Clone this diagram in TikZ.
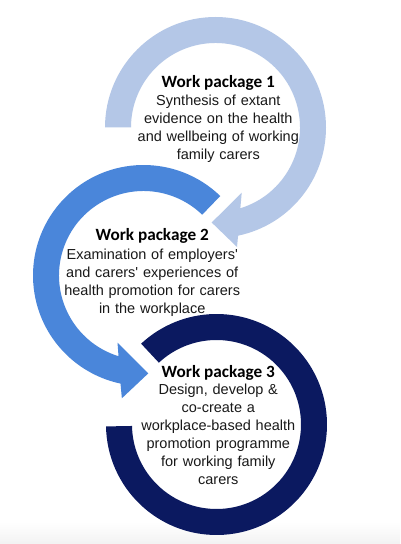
\documentclass[tikz,border=0pt]{standalone}
\usepackage{fontspec}
\setmainfont{Liberation Sans}
\newfontfamily\bodyfont{Liberation Sans}
\newfontfamily\titlefont{Carlito}
\definecolor{wpone}{HTML}{B4C7E7}
\definecolor{wptwo}{HTML}{4A86DA}
\definecolor{wpthree}{HTML}{0B1960}
\tikzset{
  wptitle/.style={font=\titlefont\bfseries\fontsize{17.2}{20}\selectfont, anchor=base, inner sep=0pt, text=black},
  wpbody/.style={font=\bodyfont\fontsize{14.5}{17.9}\selectfont, text width=230pt, align=center, anchor=base, inner sep=0pt, text=black!90}
}
\begin{document}
\begin{tikzpicture}[x=1pt,y=1pt]
\useasboundingbox (0,0) rectangle (400,544);
\fill[white] (0,0) rectangle (400,544);
\shade[top color=white,bottom color=black!5] (0,0) rectangle (400,22);

\coordinate (c1) at (215.5,416.5);
\coordinate (c2) at (143.5,268.5);
\coordinate (c3) at (216.5,119.5);

\begin{scope}[shift={(c1)}]
\fill[wpone] (180:110.5) arc[start angle=180,end angle=-78.2,radius=110.5]
  -- (-79.8:121.4) -- (-92.3:95.1) -- (-68.1:70.3) -- (-72.9:84.5)
  arc[start angle=-72.9,end angle=180,radius=84.5] -- cycle;
\end{scope}

\begin{scope}[shift={(c2)}]
\fill[wptwo] (46:110.5) arc[start angle=46,end angle=258,radius=110.5]
  -- (260:124.7) -- (272.8:98) -- (248.8:71.9) -- (252.8:84.5)
  arc[start angle=252.8,end angle=46,radius=84.5] -- cycle;
\end{scope}

\begin{scope}[shift={(c3)}]
\fill[wpthree] (-179:110.5) arc[start angle=-179,end angle=133,radius=110.5]
  -- (133:84.5) arc[start angle=133,end angle=-179,radius=84.5] -- cycle;
\end{scope}

\node[wptitle] (t1) at (218.3,456.3) {Work package 1};
\node[wpbody] (b1) at (218.3,438) {Synthesis of extant\\evidence on the health\\and wellbeing of working\\family carers};

\node[wptitle] (t2) at (152.2,303) {Work package 2};
\node[wpbody] (b2) at (152.2,284) {Examination of employers'\\and carers' experiences of\\health promotion for carers\\in the workplace};

\node[wptitle] (t3) at (218.3,166.7) {Work package 3};
\node[wpbody] (b3) at (218.3,149) {Design, develop \&\\co-create a\\workplace-based health\\promotion programme\\for working family\\carers};
\end{tikzpicture}
\end{document}
